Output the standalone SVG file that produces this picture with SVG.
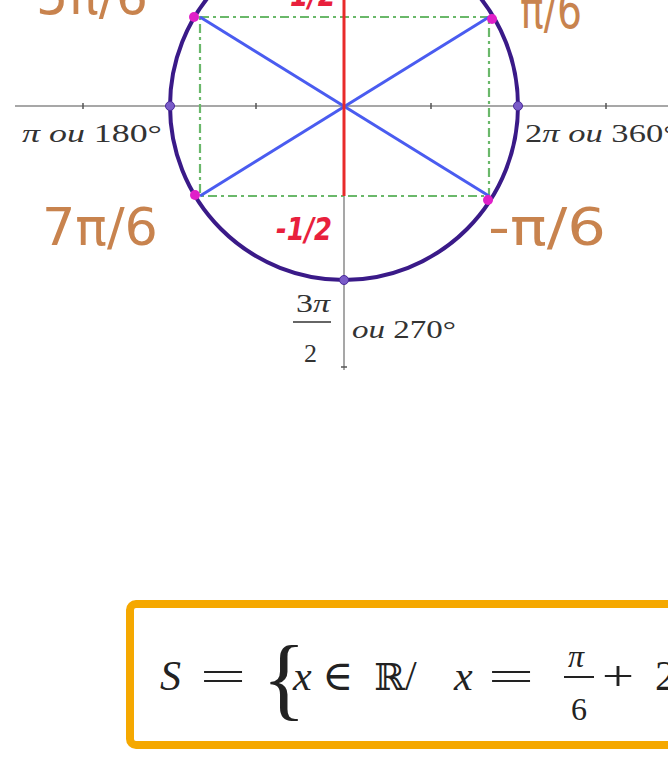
<svg xmlns="http://www.w3.org/2000/svg" width="668" height="778" viewBox="0 0 668 778">
<style>
.axis{stroke:#8a8a8a;stroke-width:1.5;fill:none}
.tick{stroke:#555;stroke-width:1.5}
.hand{font-family:"DejaVu Sans",sans-serif;fill:#c8834e}
.red{font-family:"DejaVu Sans",sans-serif;fill:#e8203c;font-style:italic}
.lab{font-family:"Liberation Serif",serif;fill:#333;font-size:26px}
.math{font-family:"Liberation Serif","DejaVu Serif",serif;fill:#222}
.green{stroke:#6ab86a;stroke-width:2.2;stroke-dasharray:9 4 3 4;fill:none}
.blue{stroke:#4a5cf0;stroke-width:3;fill:none}
.pt{fill:#e020c8}
.ax{fill:#7a5cc8;stroke:#4a2a9a;stroke-width:1}
</style>
<rect width="668" height="778" fill="#ffffff"/>
<g id="axes">
<line class="axis" x1="15" y1="106" x2="668" y2="106"/>
<line class="axis" x1="344" y1="0" x2="344" y2="370"/>
<line class="tick" x1="83" y1="103" x2="83" y2="109"/>
<line class="tick" x1="256" y1="103" x2="256" y2="109"/>
<line class="tick" x1="431" y1="103" x2="431" y2="109"/>
<line class="tick" x1="606" y1="103" x2="606" y2="109"/>
<line class="tick" x1="341" y1="367" x2="347" y2="367"/>
</g>
<g id="projections">
<rect class="green" x="200" y="17" width="289" height="179"/>
</g>
<g id="connectors">
<line class="blue" x1="200" y1="17" x2="489" y2="196"/>
<line class="blue" x1="489" y1="17" x2="200" y2="196"/>
<line stroke="#e82a2a" stroke-width="3" x1="344" y1="0" x2="344" y2="196"/>
</g>
<g id="circle">
<circle cx="344" cy="106" r="174" fill="none" stroke="#3a1a88" stroke-width="4"/>
</g>
<g id="points">
<circle class="ax" cx="170" cy="106" r="4.5"/>
<circle class="ax" cx="518" cy="106" r="4.5"/>
<circle class="ax" cx="344" cy="280" r="4.5"/>
<circle class="pt" cx="194" cy="17" r="5"/>
<circle class="pt" cx="492" cy="19" r="5"/>
<circle class="pt" cx="195" cy="195" r="5"/>
<circle class="pt" cx="488" cy="200" r="5"/>
</g>
<g id="labels">
<text class="hand" x="36" y="14" font-size="54" textLength="112" lengthAdjust="spacingAndGlyphs">5π/6</text>
<text class="hand" x="520" y="28" font-size="54" textLength="62" lengthAdjust="spacingAndGlyphs">π/6</text>
<text class="hand" x="42" y="245" font-size="52" textLength="116" lengthAdjust="spacingAndGlyphs">7π/6</text>
<text class="hand" x="488" y="245" font-size="52" textLength="118" lengthAdjust="spacingAndGlyphs">-π/6</text>
<text class="red" x="290" y="6" font-size="32" font-weight="bold" textLength="46" lengthAdjust="spacingAndGlyphs">1/2</text>
<text class="red" x="276" y="240" font-size="32" font-weight="bold" textLength="56" lengthAdjust="spacingAndGlyphs">-1/2</text>
<text class="lab" x="22" y="142" textLength="140" lengthAdjust="spacingAndGlyphs"><tspan font-style="italic">π ou</tspan> 180°</text>
<text class="lab" x="525" y="142" textLength="152" lengthAdjust="spacingAndGlyphs">2<tspan font-style="italic">π ou</tspan> 360°</text>
<text class="lab" x="296" y="312" textLength="34" lengthAdjust="spacingAndGlyphs">3<tspan font-style="italic">π</tspan></text>
<line stroke="#333" stroke-width="1.6" x1="293" y1="322" x2="331" y2="322"/>
<text class="lab" x="304" y="362">2</text>
<text class="lab" x="352" y="338" textLength="104" lengthAdjust="spacingAndGlyphs"><tspan font-style="italic">ou</tspan> 270°</text>
</g>
<g id="solution">
<rect x="130" y="604" width="560" height="141" rx="6" fill="#ffffff" stroke="#f5a800" stroke-width="8"/>
<text class="math" x="160" y="690" font-size="42" font-style="italic">S</text>
<text class="math" x="200" y="690" font-size="42" textLength="46" lengthAdjust="spacingAndGlyphs">=</text>
<text class="math" x="262" y="709" font-size="92" font-weight="300">{</text>
<text class="math" x="293" y="690" font-size="42" font-style="italic">x</text>
<text class="math" x="322" y="690" font-size="42">∈</text>
<text class="math" x="374" y="690" font-size="37" font-family="DejaVu Serif,serif">ℝ</text>
<text class="math" x="405" y="690" font-size="42">/</text>
<text class="math" x="454" y="690" font-size="42" font-style="italic">x</text>
<text class="math" x="488" y="690" font-size="42" textLength="46" lengthAdjust="spacingAndGlyphs">=</text>
<text class="math" x="568" y="667" font-size="32" font-style="italic">π</text>
<line stroke="#222" stroke-width="2" x1="564" y1="677" x2="594" y2="677"/>
<text class="math" x="571" y="720" font-size="32">6</text>
<text class="math" x="602" y="690" font-size="42" textLength="32" lengthAdjust="spacingAndGlyphs">+</text>
<text class="math" x="655" y="690" font-size="42">2</text>
</g>
</svg>
